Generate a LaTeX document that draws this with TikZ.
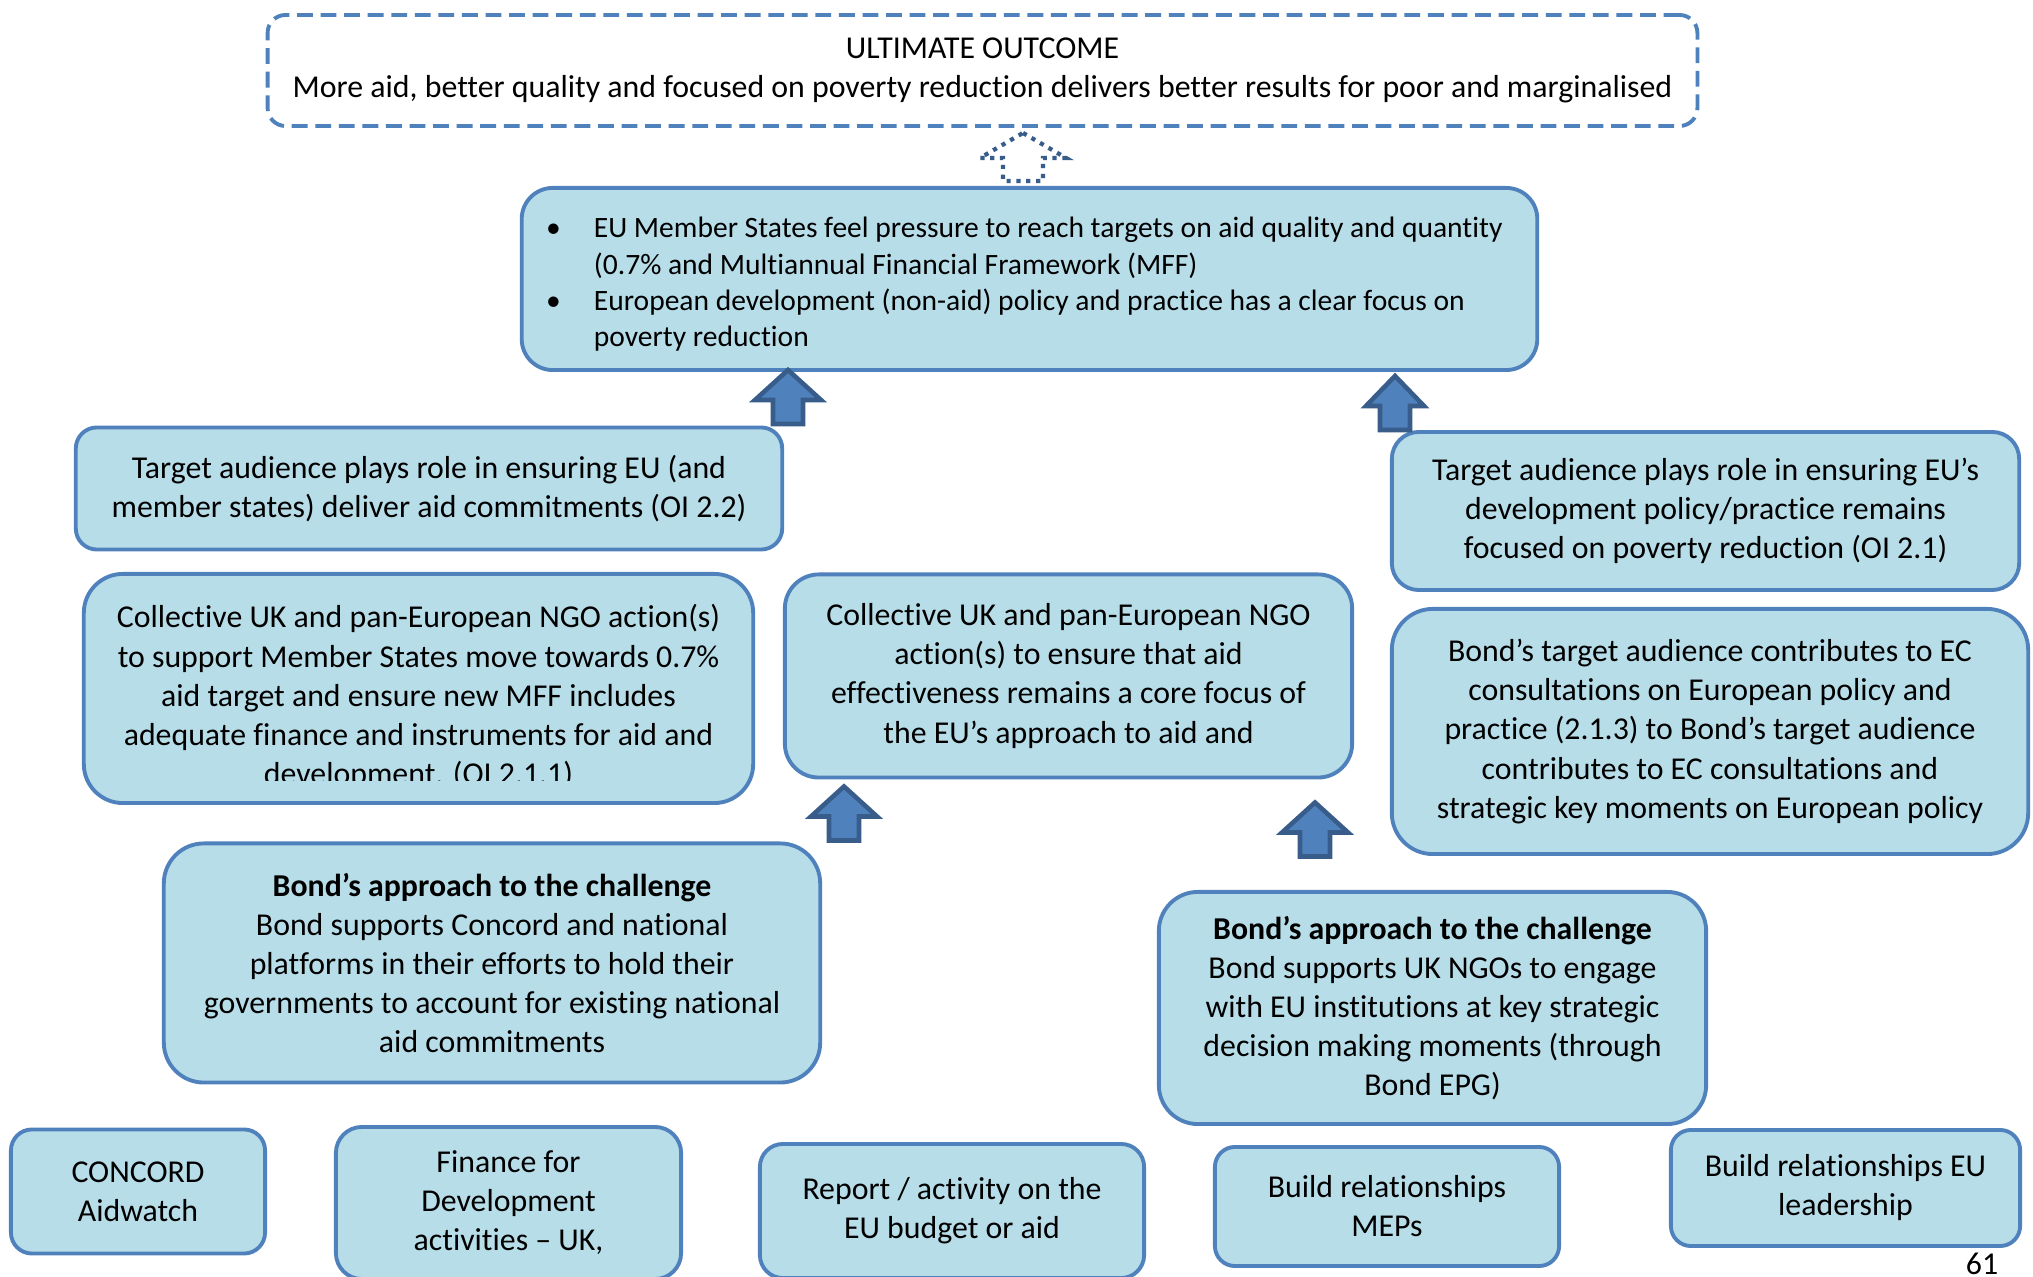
\documentclass[tikz,border=0pt]{standalone}
\usepackage{fontspec}
\setmainfont[Ligatures=NoCommon]{Carlito}
\usetikzlibrary{calc}
\definecolor{boxfill}{HTML}{B7DDE8}
\definecolor{boxline}{HTML}{4F81BD}
\definecolor{arrowfill}{HTML}{4F81BD}
\definecolor{arrowline}{HTML}{385D8A}
\tikzset{
  rbox/.style={draw=boxline, fill=boxfill, line width=1.1pt, rounded corners=#1, inner sep=0pt, align=center},
  rbox/.default=0.25cm,
  dims/.style 2 args={minimum width=#1cm, minimum height=#2cm},
  pics/uparrow/.style={code={
    \draw[arrowline, fill=arrowfill, line width=1.3pt]
      (0,0) -- (#1,30) -- (15,30) -- (15,54) -- (-15,54) -- (-15,30) -- (-#1,30) -- cycle;
  }},
  pics/uparrow/.default=33,
  pics/openarrow/.style={code={
    \draw[arrowline, fill=white, line width=1.2pt, dash pattern=on 1.2pt off 1.6pt]
      (0,0) -- (43,25) -- (20,25) -- (20,48) -- (-20,48) -- (-20,25) -- (-43,25) -- cycle;
  }},
}
\begin{document}
\begin{tikzpicture}[x=0.01cm, y=-0.01cm, font=\fontsize{9.05}{11.1}\selectfont]
  \fill[white] (0,0) rectangle (2033,1277);
  \useasboundingbox (0,0) rectangle (2033,1277);

  % outcome and goals
  \node[rbox=0.18cm, draw=boxline, fill=white, dash pattern=on 4.5pt off 2.2pt, dims={14.29}{1.11}] (outcome) at (982.5,70.5)
    {ULTIMATE OUTCOME\\More aid, better quality and focused on poverty reduction delivers better results for poor and marginalised};
  \node[rbox=0.31cm, dims={10.15}{1.82}] (main) at (1029.5,279) {};
  \node[anchor=west, align=left, font=\fontsize{8.4}{10.3}\selectfont] (goals) at ($(main.west)+(14,6)$) {%
    \begin{tabular}{@{}l@{\hspace{0.33cm}}l@{}}
      \textbullet & EU Member States feel pressure to reach targets on aid quality and quantity\\
                  & (0.7\% and Multiannual Financial Framework (MFF)\\
      \textbullet & European development (non-aid) policy and practice has a clear focus on\\
                  & poverty reduction
    \end{tabular}};
  \pic at ($(outcome.south)+(40.5,5)$) {openarrow};

  % intermediate outcomes
  \node[rbox=0.21cm, dims={7.06}{1.22}] (oiA) at (429,488.5)
    {Target audience plays role in ensuring EU (and\\member states) deliver aid commitments (OI 2.2)};
  \node[rbox=0.27cm, dims={6.27}{1.58}] (oiB) at (1705.5,511)
    {Target audience plays role in ensuring EU’s\\development policy/practice remains\\focused on poverty reduction (OI 2.1)};
  \pic at ($(main.south)+(-241.5,-2)$) {uparrow};
  \pic at ($(main.south)+(365.5,4)$) {uparrow=29};

  % collective actions
  \node[rbox=0.39cm, dims={6.69}{2.29}] (actA) at (418.5,688.5) {};
  \begin{scope}
    \clip (82,572) rectangle (755,781);
    \node[align=center] (actAtext) at (418.5,697)
      {Collective UK and pan-European NGO action(s)\\to support Member States move towards 0.7\%\\aid target and ensure new MFF includes\\adequate finance and instruments for aid and\\development. (OI 2.1.1)};
  \end{scope}
  \node[rbox=0.34cm, dims={5.67}{2.03}] (actB) at (1068.5,676)
    {Collective UK and pan-European NGO\\action(s) to ensure that aid\\effectiveness remains a core focus of\\the EU’s approach to aid and};
  \node[rbox=0.41cm, dims={6.36}{2.45}] (actC) at (1710,731.5)
    {Bond’s target audience contributes to EC\\consultations on European policy and\\practice (2.1.3) to Bond’s target audience\\contributes to EC consultations and\\strategic key moments on European policy};
  \pic at ($(actB.south)+(-224.5,7)$) {uparrow};
  \pic at ($(actB.south)+(246.5,23)$) {uparrow};

  % Bond's approach
  \node[rbox=0.4cm, dims={6.56}{2.39}] (bondA) at (492,963)
    {\textbf{Bond’s approach to the challenge}\\Bond supports Concord and national\\platforms in their efforts to hold their\\governments to account for existing national\\aid commitments};
  \node[rbox=0.39cm, dims={5.47}{2.32}] (bondB) at (1432.5,1008)
    {\textbf{Bond’s approach to the challenge}\\Bond supports UK NGOs to engage\\with EU institutions at key strategic\\decision making moments (through\\Bond EPG)};

  % activities
  \node[rbox=0.21cm, dims={2.54}{1.24}] (concord) at (138,1191.5) {CONCORD\\Aidwatch};
  \node[rbox=0.26cm, dims={3.45}{1.52}] (finance) at (508.5,1203) {Finance for\\Development\\activities – UK,};
  \node[rbox=0.23cm, dims={3.84}{1.34}] (report) at (952,1211) {Report / activity on the\\EU budget or aid};
  \node[rbox=0.2cm, dims={3.44}{1.19}] (meps) at (1387,1206.5) {Build relationships\\MEPs};
  \node[rbox=0.2cm, dims={3.49}{1.16}] (lead) at (1845.5,1188) {Build relationships EU\\leadership};

  \node[anchor=base] (pagenum) at (1982,1275) {61};
\end{tikzpicture}
\end{document}
